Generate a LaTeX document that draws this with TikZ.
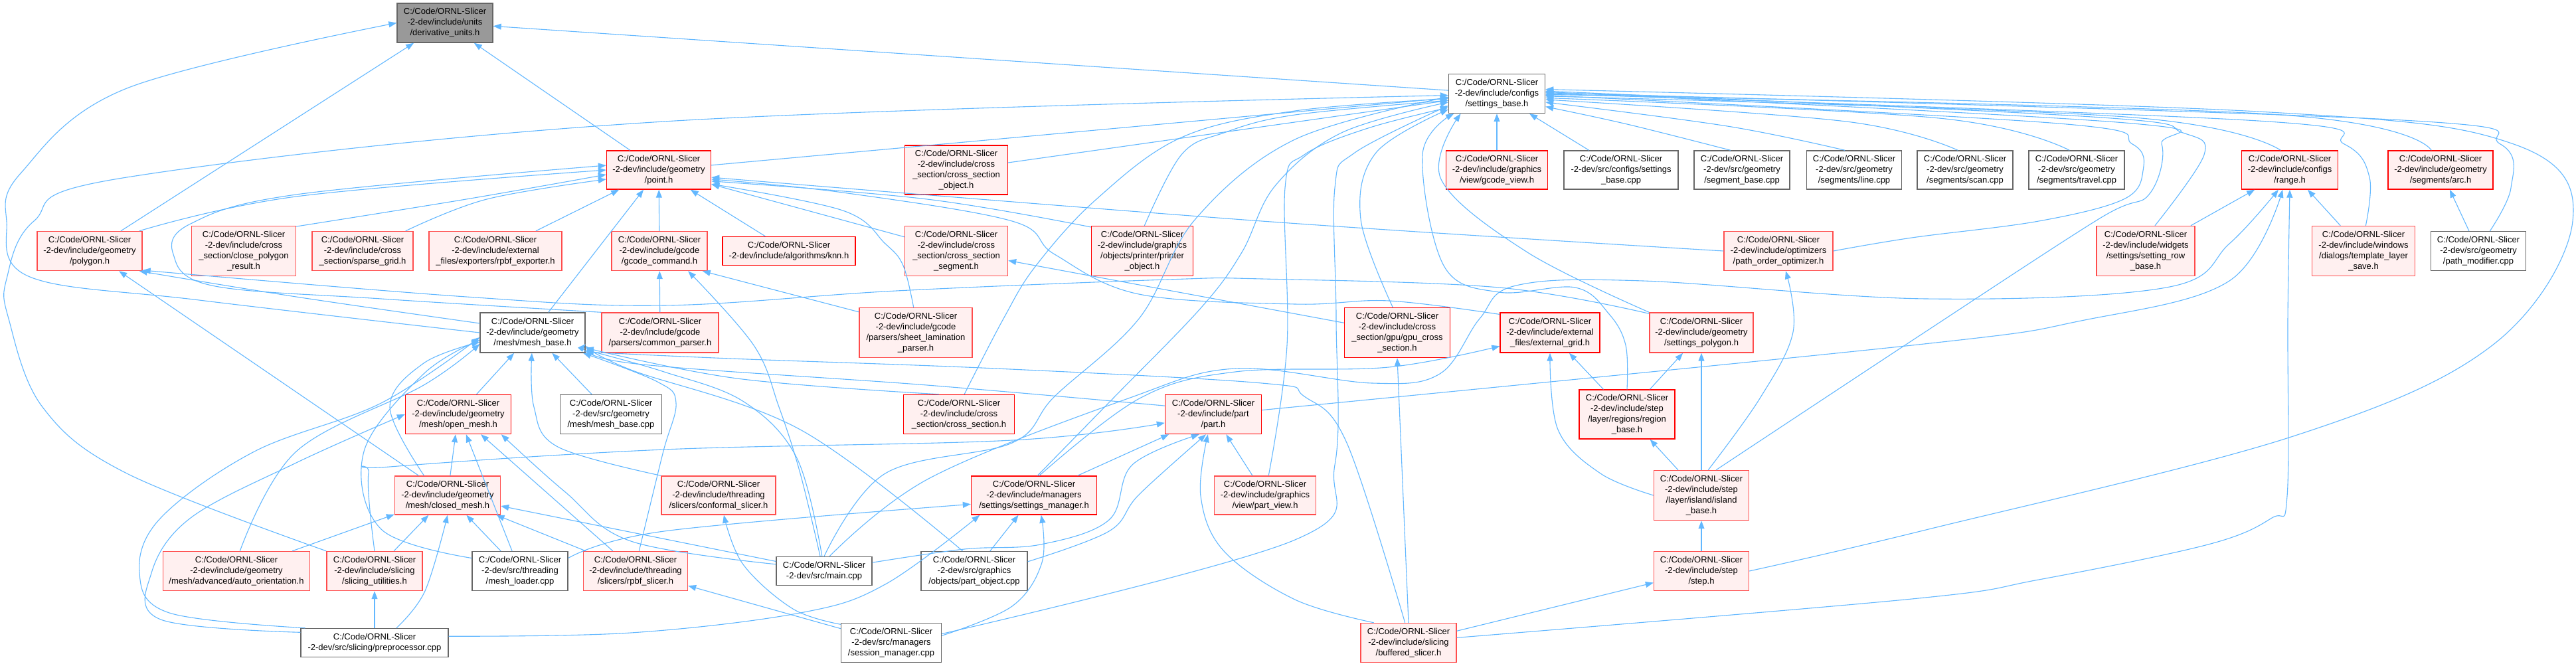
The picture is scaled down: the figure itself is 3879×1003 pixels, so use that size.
\documentclass[tikz,border=0pt]{standalone}
\usepackage{fontspec}
\setmainfont{Liberation Sans}
\usetikzlibrary{arrows.meta}
\definecolor{edgec}{HTML}{63B8FF}
\definecolor{redfill}{HTML}{FFF0F0}
\definecolor{redA}{HTML}{FF0000}
\definecolor{redB}{HTML}{FF4D4D}
\definecolor{grayb}{HTML}{666666}
\definecolor{grayf}{HTML}{999999}
\begin{document}
\begin{tikzpicture}[x=1pt,y=-1pt,
  base/.style={draw, line width=1.4pt, align=center, inner xsep=3pt, inner ysep=1pt, font=\fontsize{13}{16}\selectfont, text=black},
  rednode/.style={base, fill=redfill, draw=redA},
  redlight/.style={base, fill=redfill, draw=redB},
  whitenode/.style={base, fill=white, draw=grayb},
  graynode/.style={base, fill=grayf, draw=grayb},
  sz/.style 2 args={minimum width=#1pt, minimum height=#2pt},
  lnk/.style={draw=edgec, line width=1.1pt, -{Triangle[length=12pt,width=9pt]}},
  sm/.style={smooth, tension=0.6}
]
\fill[white] (0,0) rectangle (3879,1003);
\useasboundingbox (0,0) rectangle (3879,1003);

% ---------------- nodes ----------------
\node[graynode, sz={144}{59}] (DU) at (670,34.5) {C:/Code/ORNL-Slicer\\-2-dev/include/units\\/derivative\_units.h};
\node[whitenode, sz={145}{59}] (SB) at (2254,141) {C:/Code/ORNL-Slicer\\-2-dev/include/configs\\/settings\_base.h};

\node[rednode, sz={157}{58}] (PT) at (992,256) {C:/Code/ORNL-Slicer\\-2-dev/include/geometry\\/point.h};
\node[rednode, sz={155}{74}] (CSO) at (1440,256) {C:/Code/ORNL-Slicer\\-2-dev/include/cross\\\_section/cross\_section\\\_object.h};
\node[rednode, sz={153}{58}] (GV) at (2254,256) {C:/Code/ORNL-Slicer\\-2-dev/include/graphics\\/view/gcode\_view.h};
\node[whitenode, sz={172}{58}] (SBC) at (2441,256) {C:/Code/ORNL-Slicer\\-2-dev/src/configs/settings\\\_base.cpp};
\node[whitenode, sz={144}{58}] (SEG) at (2623,256) {C:/Code/ORNL-Slicer\\-2-dev/src/geometry\\/segment\_base.cpp};
\node[whitenode, sz={143}{58}] (LINE) at (2792,256) {C:/Code/ORNL-Slicer\\-2-dev/src/geometry\\/segments/line.cpp};
\node[whitenode, sz={144}{58}] (SCAN) at (2959,256) {C:/Code/ORNL-Slicer\\-2-dev/src/geometry\\/segments/scan.cpp};
\node[whitenode, sz={144}{58}] (TRAV) at (3127,256) {C:/Code/ORNL-Slicer\\-2-dev/src/geometry\\/segments/travel.cpp};
\node[rednode, sz={145}{58}] (RNG) at (3448,256) {C:/Code/ORNL-Slicer\\-2-dev/include/configs\\/range.h};
\node[rednode, sz={158}{58}] (ARC) at (3675,256) {C:/Code/ORNL-Slicer\\-2-dev/include/geometry\\/segments/arc.h};

\node[redlight, sz={158}{59}] (PG) at (135,378) {C:/Code/ORNL-Slicer\\-2-dev/include/geometry\\/polygon.h};
\node[redlight, sz={157}{75}] (CPR) at (367,378) {C:/Code/ORNL-Slicer\\-2-dev/include/cross\\\_section/close\_polygon\\\_result.h};
\node[redlight, sz={152}{59}] (SG) at (546,378) {C:/Code/ORNL-Slicer\\-2-dev/include/cross\\\_section/sparse\_grid.h};
\node[redlight, sz={200}{59}] (RE) at (746,378) {C:/Code/ORNL-Slicer\\-2-dev/include/external\\\_files/exporters/rpbf\_exporter.h};
\node[redlight, sz={144}{59}] (GC) at (993,378) {C:/Code/ORNL-Slicer\\-2-dev/include/gcode\\/gcode\_command.h};
\node[rednode, sz={200}{43}] (KNN) at (1188,378) {C:/Code/ORNL-Slicer\\-2-dev/include/algorithms/knn.h};
\node[redlight, sz={155}{75}] (CSS) at (1440,378) {C:/Code/ORNL-Slicer\\-2-dev/include/cross\\\_section/cross\_section\\\_segment.h};
\node[rednode, sz={153}{75}] (PO) at (1720,378) {C:/Code/ORNL-Slicer\\-2-dev/include/graphics\\/objects/printer/printer\\\_object.h};
\node[redlight, sz={164}{59}] (POO) at (2678,378) {C:/Code/ORNL-Slicer\\-2-dev/include/optimizers\\/path\_order\_optimizer.h};
\node[redlight, sz={148}{75}] (SRB) at (3231,378) {C:/Code/ORNL-Slicer\\-2-dev/include/widgets\\/settings/setting\_row\\\_base.h};
\node[redlight, sz={155}{75}] (TLS) at (3559,378) {C:/Code/ORNL-Slicer\\-2-dev/include/windows\\/dialogs/template\_layer\\\_save.h};
\node[whitenode, sz={143}{59}] (PM) at (3732,378) {C:/Code/ORNL-Slicer\\-2-dev/src/geometry\\/path\_modifier.cpp};

\node[whitenode, sz={158}{60}] (MB) at (802,501) {C:/Code/ORNL-Slicer\\-2-dev/include/geometry\\/mesh/mesh\_base.h};
\node[redlight, sz={176}{60}] (CP) at (994,501) {C:/Code/ORNL-Slicer\\-2-dev/include/gcode\\/parsers/common\_parser.h};
\node[redlight, sz={170}{75}] (SLP) at (1379,501) {C:/Code/ORNL-Slicer\\-2-dev/include/gcode\\/parsers/sheet\_lamination\\\_parser.h};
\node[rednode, sz={159}{75}] (GPU) at (2104,501) {C:/Code/ORNL-Slicer\\-2-dev/include/cross\\\_section/gpu/gpu\_cross\\\_section.h};
\node[rednode, sz={150}{60}] (EG) at (2334,501) {C:/Code/ORNL-Slicer\\-2-dev/include/external\\\_files/external\_grid.h};
\node[redlight, sz={156}{60}] (SP) at (2562,501) {C:/Code/ORNL-Slicer\\-2-dev/include/geometry\\/settings\_polygon.h};

\node[rednode, sz={159}{59}] (OM) at (690,624) {C:/Code/ORNL-Slicer\\-2-dev/include/geometry\\/mesh/open\_mesh.h};
\node[whitenode, sz={153}{59}] (MBC) at (920,624) {C:/Code/ORNL-Slicer\\-2-dev/src/geometry\\/mesh/mesh\_base.cpp};
\node[rednode, sz={167}{59}] (CS) at (1444,624) {C:/Code/ORNL-Slicer\\-2-dev/include/cross\\\_section/cross\_section.h};
\node[rednode, sz={145}{59}] (PART) at (1827,624) {C:/Code/ORNL-Slicer\\-2-dev/include/part\\/part.h};
\node[rednode, sz={144}{74}] (RB) at (2450,624) {C:/Code/ORNL-Slicer\\-2-dev/include/step\\/layer/regions/region\\\_base.h};

\node[redlight, sz={159}{58}] (CM) at (674,746) {C:/Code/ORNL-Slicer\\-2-dev/include/geometry\\/mesh/closed\_mesh.h};
\node[redlight, sz={172}{58}] (CSL) at (1082,746) {C:/Code/ORNL-Slicer\\-2-dev/include/threading\\/slicers/conformal\_slicer.h};
\node[rednode, sz={189}{58}] (SM) at (1557,746) {C:/Code/ORNL-Slicer\\-2-dev/include/managers\\/settings/settings\_manager.h};
\node[redlight, sz={153}{58}] (PV) at (1905,746) {C:/Code/ORNL-Slicer\\-2-dev/include/graphics\\/view/part\_view.h};
\node[redlight, sz={143}{75}] (IB) at (2562,746) {C:/Code/ORNL-Slicer\\-2-dev/include/step\\/layer/island/island\\\_base.h};

\node[redlight, sz={221}{59}] (AO) at (356,860) {C:/Code/ORNL-Slicer\\-2-dev/include/geometry\\/mesh/advanced/auto\_orientation.h};
\node[redlight, sz={144}{59}] (SU) at (564,860) {C:/Code/ORNL-Slicer\\-2-dev/include/slicing\\/slicing\_utilities.h};
\node[whitenode, sz={144}{59}] (ML) at (783,860) {C:/Code/ORNL-Slicer\\-2-dev/src/threading\\/mesh\_loader.cpp};
\node[redlight, sz={157}{59}] (RS) at (957,860) {C:/Code/ORNL-Slicer\\-2-dev/include/threading\\/slicers/rpbf\_slicer.h};
\node[whitenode, sz={144}{43}] (MAIN) at (1241,860) {C:/Code/ORNL-Slicer\\-2-dev/src/main.cpp};
\node[whitenode, sz={160}{59}] (POB) at (1467,860) {C:/Code/ORNL-Slicer\\-2-dev/src/graphics\\/objects/part\_object.cpp};
\node[redlight, sz={143}{59}] (STEP) at (2562,860) {C:/Code/ORNL-Slicer\\-2-dev/include/step\\/step.h};

\node[whitenode, sz={222}{43}] (PP) at (564,968) {C:/Code/ORNL-Slicer\\-2-dev/src/slicing/preprocessor.cpp};
\node[whitenode, sz={151}{59}] (SMC) at (1342,968) {C:/Code/ORNL-Slicer\\-2-dev/src/managers\\/session\_manager.cpp};
\node[redlight, sz={144}{59}] (BS) at (2121,968) {C:/Code/ORNL-Slicer\\-2-dev/include/slicing\\/buffered\_slicer.h};

% ---------------- edges ----------------
% into derivative_units.h
\draw[lnk] (SB) -- (DU);
\draw[lnk] (PT) -- (DU);
\draw[lnk] (PG) -- (DU);
\draw[lnk] plot[sm] coordinates {(MB.180) (300,452) (45,417) (10,333) (32,260) (191,133) (DU.west)};

% into settings_base.h
\draw[lnk] (PT) -- (SB);
\draw[lnk] (CSO) -- (SB);
\draw[lnk] (GV) -- (SB);
\draw[lnk] (SBC) -- (SB);
\draw[lnk] plot[sm] coordinates {(SEG.120) (2450,187) (SB.-15)};
\draw[lnk] plot[sm] coordinates {(LINE.115) (2601,190) (SB.-10)};
\draw[lnk] plot[sm] coordinates {(SCAN.110) (2780,183) (SB.-7)};
\draw[lnk] plot[sm] coordinates {(TRAV.110) (2920,178) (SB.-5)};
\draw[lnk] plot[sm] coordinates {(RNG.115) (3200,176) (SB.-3)};
\draw[lnk] plot[sm] coordinates {(ARC.115) (3420,172) (SB.-1)};
\draw[lnk] plot[sm] coordinates {(PM.60) (3781,283) (3765,217) (3600,180) (SB.1)};
\draw[lnk] plot[sm] coordinates {(SRB.70) (3319,233) (3287,200) (3150,176) (SB.3)};
\draw[lnk] plot[sm] coordinates {(TLS.85) (3568,267) (3530,217) (3400,182) (SB.0)};
\draw[lnk] plot[sm] coordinates {(POO.east) (2879,358) (3070,333) (3198,300) (3227,257) (3211,217) (3100,186) (SB.-2)};
\draw[lnk] plot[sm] coordinates {(STEP.east) (2900,798) (3453,657) (3753,520) (3874,333) (3785,217) (3400,168) (SB.5)};
\draw[lnk] plot[sm] coordinates {(IB.60) (2879,513) (3160,330) (3236,293) (3255,217) (3200,185) (SB.2)};
\draw[lnk] plot[sm] coordinates {(PO.85) (1779,233) (1843,200) (1950,173) (SB.188)};
\draw[lnk] plot[sm] coordinates {(GPU.100) (2049,330) (2072,230) (SB.198)};
\draw[lnk] plot[sm] coordinates {(SU.north west) (191,713) (64,613) (13,480) (10,420) (51,333) (191,267) (1000,183) (SB.182)};
\draw[lnk] plot[sm] coordinates {(PV.80) (1938,520) (1935,283) (1964,233) (2060,193) (SB.196)};
\draw[lnk] plot[sm] coordinates {(SMC.10) (1950,813) (2010,700) (2012,480) (2010,283) (2040,230) (SB.194)};
\draw[lnk] plot[sm] coordinates {(RB.north) (2448,520) (2423,473) (2372,433) (2257,440) (2174,400) (2142,233) (SB.205)};
\draw[lnk] plot[sm] coordinates {(SP.north west) (2300,380) (2170,270) (SB.209)};
\draw[lnk] plot[sm] coordinates {(CS.75) (1511,480) (1560,400) (1651,300) (1779,207) (1950,167) (SB.186)};
\draw[lnk] plot[sm] coordinates {(SM.80) (1676,600) (1809,463) (1870,380) (1920,280) (2020,200) (SB.190)};
\draw[lnk] plot[sm] coordinates {(MAIN.north) (1333,713) (1524,667) (1588,597) (1715,480) (1800,330) (1950,210) (SB.184)};

% right part
\draw[lnk] (PM) -- (ARC);
\draw[lnk] (SRB) -- (RNG);
\draw[lnk] (TLS) -- (RNG);
\draw[lnk] plot[sm] coordinates {(POO.west) (1900,333) (PT.-8)};
\draw[lnk] plot[sm] coordinates {(PO.155) (1396,300) (PT.-12)};
\draw[lnk] (GPU) -- (CSS);
\draw[lnk] (IB) -- (RB);
\draw[lnk] (IB) -- (SP);
\draw[lnk] plot[sm] coordinates {(IB.west) (2410,713) (2346,647) (EG.south)};
\draw[lnk] plot[sm] coordinates {(IB.75) (2650,600) (2700,500) (POO.290)};
\draw[lnk] (STEP) -- (IB);
\draw[lnk] (BS) -- (STEP);
\draw[lnk] plot[sm] coordinates {(BS.6) (2879,902) (3070,873) (3325,820) (3421,780) (3444,747) (3445,480) (RNG.south)};
\draw[lnk] (BS.north) -- (GPU.south);
\draw[lnk] plot[sm] coordinates {(BS.150) (1950,903) (1843,830) (1808,747) (PART.255)};
\draw[lnk] plot[sm] coordinates {(BS.100) (2028,667) (1964,597) (1900,577) (1500,555) (1100,540) (MB.-20)};
\draw[lnk] (RB) -- (EG);
\draw[lnk] (RB) -- (SP);

% part / cross section
\draw[lnk] plot[sm] coordinates {(CS.135) (1110,570) (MB.-16)};
\draw[lnk] plot[sm] coordinates {(PART.170) (1396,580) (950,547) (MB.-12)};
\draw[lnk] plot[sm] coordinates {(PART.5) (2879,520) (3134,483) (3357,423) (RNG.250)};
\draw[lnk] (PV) -- (PART);
\draw[lnk] (SM) -- (PART);
\draw[lnk] plot[sm] coordinates {(MAIN.10) (1452,827) (1567,820) (1670,783) (1705,700) (PART.235)};
\draw[lnk] plot[sm] coordinates {(POB.10) (1670,800) (1715,745) (PART.250)};
\draw[lnk] plot[sm] coordinates {(SU.north) (555,713) (587,703) (1000,677) (1524,663) (PART.190)};
\draw[lnk] plot[sm] coordinates {(MAIN.70) (1400,720) (1699,600) (1860,555) (2066,577) (2168,563) (2228,480) (2283,430) (2474,423) (2900,450) (3262,433) (3357,367) (RNG.240)};
\draw[lnk] plot[sm] coordinates {(SM.75) (1716,600) (1860,560) (2091,553) (EG.195)};

% polygon / point
\draw[lnk] plot[sm] coordinates {(SP.160) (2257,433) (1900,420) (1758,421) (1350,438) (1000,460) (702,447) (PG.-20)};
\draw[lnk] plot[sm] coordinates {(MB.170) (446,447) (PG.-22)};
\draw[lnk] (CM) -- (PG);
\draw[lnk] plot[sm] coordinates {(EG.160) (2091,453) (1950,458) (1715,443) (1588,383) (1524,333) (1269,290) (PT.-10)};
\draw[lnk] plot[sm] coordinates {(SLP.95) (1360,400) (1333,367) (1269,317) (PT.-15)};
\draw[lnk] plot[sm] coordinates {(SLP.160) (1141,430) (GC.-25)};
\draw[lnk] (CSS) -- (PT);
\draw[lnk] (KNN) -- (PT);
\draw[lnk] (GC) -- (PT);
\draw[lnk] (RE) -- (PT);
\draw[lnk] plot[sm] coordinates {(SG.25) (733,300) (PT.190)};
\draw[lnk] plot[sm] coordinates {(CPR.25) (702,300) (PT.185)};
\draw[lnk] plot[sm] coordinates {(PG.22) (446,296) (PT.180)};
\draw[lnk] (MB) -- (PT);
\draw[lnk] plot[sm] coordinates {(CP.north west) (574,450) (319,430) (261,383) (287,337) (446,293) (PT.175)};
\draw[lnk] (CP) -- (GC);

% mesh
\draw[lnk] (OM) -- (MB);
\draw[lnk] (MBC) -- (MB);
\draw[lnk] plot[sm] coordinates {(CM.140) (587,613) (638,547) (MB.190)};
\draw[lnk] plot[sm] coordinates {(CSL.north west) (840,673) (804,613) (MB.268)};
\draw[lnk] plot[sm] coordinates {(AO.80) (446,680) (638,580) (MB.192)};
\draw[lnk] plot[sm] coordinates {(ML.165) (574,797) (548,680) (638,563) (MB.188)};
\draw[lnk] plot[sm] coordinates {(PP.168) (255,923) (210,863) (242,780) (383,680) (574,607) (MB.185)};
\draw[lnk] plot[sm] coordinates {(PP.172) (242,933) (228,863) (287,780) (446,697) (OM.west)};
\draw[lnk] plot[sm] coordinates {(RS.80) (998,683) (1018,607) (990,575) (MB.-22)};
\draw[lnk] plot[sm] coordinates {(MAIN.98) (1200,690) (1120,605) (1000,560) (MB.-18)};
\draw[lnk] plot[sm] coordinates {(POB.120) (1205,647) (950,557) (MB.-14)};
\draw[lnk] (CM) -- (OM);
\draw[lnk] (ML) -- (OM);
\draw[lnk] (RS) -- (OM);
\draw[lnk] plot[sm] coordinates {(MAIN.172) (950,815) (850,740) (OM.-25)};
\draw[lnk] (AO) -- (CM);
\draw[lnk] (SU) -- (CM);
\draw[lnk] plot[sm] coordinates {(PP.34) (640,890) (CM.south)};
\draw[lnk] (ML) -- (CM);
\draw[lnk] (RS) -- (CM);
\draw[lnk] (MAIN) -- (CM);
\draw[lnk] (PP) -- (SU);

% managers
\draw[lnk] plot[sm] coordinates {(ML.15) (1000,800) (SM.188)};
\draw[lnk] plot[sm] coordinates {(PP.5) (950,953) (1205,923) (1333,880) (SM.200)};
\draw[lnk] (POB) -- (SM);
\draw[lnk] plot[sm] coordinates {(SMC.8) (1524,913) (1569,847) (SM.-70)};
\draw[lnk] plot[sm] coordinates {(SMC.160) (1194,917) (1119,850) (CSL.-75)};
\draw[lnk] (SMC) -- (RS);
\draw[lnk] plot[sm] coordinates {(MAIN.105) (1205,713) (1173,613) (1135,520) (GC.-35)};
\end{tikzpicture}
\end{document}
